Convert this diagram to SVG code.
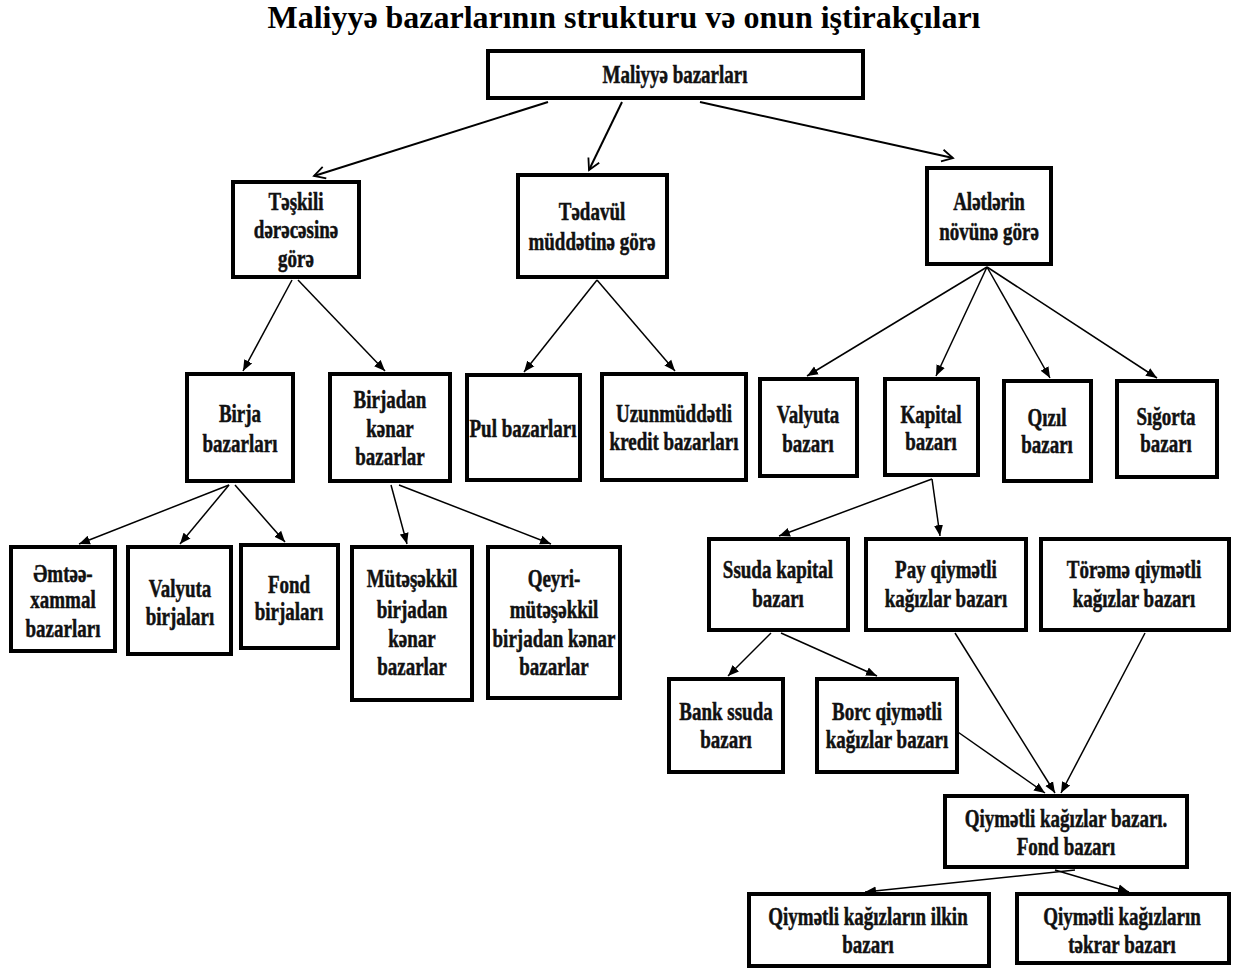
<svg xmlns="http://www.w3.org/2000/svg" width="1234" height="972" viewBox="0 0 1234 972">
<style>
.box rect{fill:#fff;stroke:#000;stroke-width:4}
.box text{font-family:"Liberation Serif","Times New Roman",serif;font-weight:bold;font-size:25px;fill:#111;stroke:#111;stroke-width:.5;text-anchor:middle}
.title{font-family:"Liberation Serif","Times New Roman",serif;font-weight:bold;font-size:31px;fill:#000;text-anchor:middle}
.c line{stroke:#000;stroke-width:1.5;fill:none}
.c .open{stroke-width:2;marker-end:url(#open)}
.c .fill{marker-end:url(#tri)}
</style>
<defs>
<marker id="tri" markerUnits="userSpaceOnUse" markerWidth="12" markerHeight="10" refX="11" refY="5" orient="auto"><path d="M0,0.5 L11,5 L0,9.5 z" fill="#000"/></marker>
<marker id="open" markerUnits="userSpaceOnUse" markerWidth="14" markerHeight="14" refX="12" refY="7" orient="auto"><path d="M1,1 L12,7 L1,13" fill="none" stroke="#000" stroke-width="1.8"/></marker>
</defs>
<rect width="1234" height="972" fill="#fff"/>
<text class="title" x="624" y="28" textLength="713" lengthAdjust="spacingAndGlyphs">Maliyyə bazarlarının strukturu və onun iştirakçıları</text>

<g class="c" id="connectors">
<line class="open" x1="548" y1="102" x2="314" y2="176"/>
<line class="open" x1="622" y1="102" x2="589" y2="170"/>
<line class="open" x1="700" y1="102" x2="953" y2="158"/>
<line class="fill" x1="292" y1="280" x2="243" y2="371"/>
<line class="fill" x1="298" y1="280" x2="385" y2="371"/>
<line class="fill" x1="597" y1="280" x2="524" y2="372"/>
<line class="fill" x1="597" y1="280" x2="675" y2="371"/>
<line class="fill" x1="987" y1="267" x2="807" y2="376"/>
<line class="fill" x1="987" y1="267" x2="936" y2="376"/>
<line class="fill" x1="987" y1="267" x2="1050" y2="378"/>
<line class="fill" x1="987" y1="267" x2="1157" y2="378"/>
<line class="fill" x1="229" y1="485" x2="79" y2="544"/>
<line class="fill" x1="229" y1="485" x2="180" y2="544"/>
<line class="fill" x1="235" y1="485" x2="285" y2="542"/>
<line class="fill" x1="391" y1="485" x2="407" y2="544"/>
<line class="fill" x1="399" y1="485" x2="551" y2="544"/>
<line class="fill" x1="932" y1="479" x2="779" y2="536"/>
<line class="fill" x1="932" y1="479" x2="940" y2="536"/>
<line class="fill" x1="771" y1="633" x2="728" y2="676"/>
<line class="fill" x1="781" y1="633" x2="877" y2="676"/>
<line class="fill" x1="955" y1="730" x2="1045" y2="793"/>
<line class="fill" x1="955" y1="633" x2="1055" y2="793"/>
<line class="fill" x1="1145" y1="633" x2="1061" y2="793"/>
<line class="fill" x1="1075" y1="870" x2="865" y2="892"/>
<line class="fill" x1="1055" y1="870" x2="1129" y2="892"/>
</g>

<g class="box" id="n-root"><rect x="488" y="51" width="375" height="47"/><text transform="translate(675 0) scale(.76 1)"><tspan x="0" y="83">Maliyyə bazarları</tspan></text></g>
<g class="box" id="n-teskili"><rect x="233" y="182" width="126" height="95"/><text transform="translate(296 0) scale(.76 1)"><tspan x="0" y="210">Təşkili</tspan><tspan x="0" y="238">dərəcəsinə</tspan><tspan x="0" y="267">görə</tspan></text></g>
<g class="box" id="n-tedavul"><rect x="518" y="175" width="149" height="102"/><text transform="translate(592 0) scale(.76 1)"><tspan x="0" y="220">Tədavül</tspan><tspan x="0" y="250">müddətinə görə</tspan></text></g>
<g class="box" id="n-aletler"><rect x="927" y="168" width="124" height="96"/><text transform="translate(989 0) scale(.76 1)"><tspan x="0" y="210">Alətlərin</tspan><tspan x="0" y="240">növünə görə</tspan></text></g>

<g class="box" id="n-birja"><rect x="187" y="374" width="106" height="107"/><text transform="translate(240 0) scale(.76 1)"><tspan x="0" y="422">Birja</tspan><tspan x="0" y="452">bazarları</tspan></text></g>
<g class="box" id="n-birjadan"><rect x="330" y="374" width="120" height="107"/><text transform="translate(390 0) scale(.76 1)"><tspan x="0" y="408">Birjadan</tspan><tspan x="0" y="437">kənar</tspan><tspan x="0" y="465">bazarlar</tspan></text></g>
<g class="box" id="n-pul"><rect x="467" y="375" width="113" height="105"/><text transform="translate(523 0) scale(.76 1)"><tspan x="0" y="437">Pul bazarları</tspan></text></g>
<g class="box" id="n-uzun"><rect x="602" y="374" width="144" height="106"/><text transform="translate(674 0) scale(.76 1)"><tspan x="0" y="422">Uzunmüddətli</tspan><tspan x="0" y="450">kredit bazarları</tspan></text></g>
<g class="box" id="n-valyuta"><rect x="760" y="379" width="97" height="97"/><text transform="translate(808 0) scale(.76 1)"><tspan x="0" y="423">Valyuta</tspan><tspan x="0" y="452">bazarı</tspan></text></g>
<g class="box" id="n-kapital"><rect x="885" y="379" width="93" height="96"/><text transform="translate(931 0) scale(.76 1)"><tspan x="0" y="423">Kapital</tspan><tspan x="0" y="450">bazarı</tspan></text></g>
<g class="box" id="n-qizil"><rect x="1004" y="381" width="87" height="100"/><text transform="translate(1047 0) scale(.76 1)"><tspan x="0" y="426">Qızıl</tspan><tspan x="0" y="453">bazarı</tspan></text></g>
<g class="box" id="n-sigorta"><rect x="1117" y="381" width="100" height="96"/><text transform="translate(1166 0) scale(.76 1)"><tspan x="0" y="425">Sığorta</tspan><tspan x="0" y="452">bazarı</tspan></text></g>

<g class="box" id="n-emtee"><rect x="11" y="547" width="104" height="104"/><text transform="translate(63 0) scale(.76 1)"><tspan x="0" y="582">Əmtəə-</tspan><tspan x="0" y="608">xammal</tspan><tspan x="0" y="637">bazarları</tspan></text></g>
<g class="box" id="n-valyutabirj"><rect x="128" y="547" width="103" height="107"/><text transform="translate(180 0) scale(.76 1)"><tspan x="0" y="597">Valyuta</tspan><tspan x="0" y="625">birjaları</tspan></text></g>
<g class="box" id="n-fondbirj"><rect x="241" y="545" width="97" height="103"/><text transform="translate(289 0) scale(.76 1)"><tspan x="0" y="593">Fond</tspan><tspan x="0" y="620">birjaları</tspan></text></g>
<g class="box" id="n-mutesekkil"><rect x="352" y="547" width="120" height="153"/><text transform="translate(412 0) scale(.76 1)"><tspan x="0" y="587">Mütəşəkkil</tspan><tspan x="0" y="618">birjadan</tspan><tspan x="0" y="647">kənar</tspan><tspan x="0" y="675">bazarlar</tspan></text></g>
<g class="box" id="n-qeyri"><rect x="488" y="547" width="132" height="151"/><text transform="translate(554 0) scale(.76 1)"><tspan x="0" y="587">Qeyri-</tspan><tspan x="0" y="618">mütəşəkkil</tspan><tspan x="0" y="647">birjadan kənar</tspan><tspan x="0" y="675">bazarlar</tspan></text></g>

<g class="box" id="n-ssuda"><rect x="709" y="539" width="139" height="91"/><text transform="translate(778 0) scale(.76 1)"><tspan x="0" y="578">Ssuda kapital</tspan><tspan x="0" y="607">bazarı</tspan></text></g>
<g class="box" id="n-pay"><rect x="866" y="539" width="160" height="91"/><text transform="translate(946 0) scale(.76 1)"><tspan x="0" y="578">Pay qiymətli</tspan><tspan x="0" y="607">kağızlar bazarı</tspan></text></g>
<g class="box" id="n-toreme"><rect x="1041" y="539" width="188" height="91"/><text transform="translate(1134 0) scale(.76 1)"><tspan x="0" y="578">Törəmə qiymətli</tspan><tspan x="0" y="607">kağızlar bazarı</tspan></text></g>
<g class="box" id="n-bank"><rect x="669" y="679" width="114" height="93"/><text transform="translate(726 0) scale(.76 1)"><tspan x="0" y="720">Bank ssuda</tspan><tspan x="0" y="748">bazarı</tspan></text></g>
<g class="box" id="n-borc"><rect x="817" y="679" width="140" height="93"/><text transform="translate(887 0) scale(.76 1)"><tspan x="0" y="720">Borc qiymətli</tspan><tspan x="0" y="748">kağızlar bazarı</tspan></text></g>
<g class="box" id="n-fond"><rect x="945" y="796" width="242" height="71"/><text transform="translate(1066 0) scale(.76 1)"><tspan x="0" y="827">Qiymətli kağızlar bazarı.</tspan><tspan x="0" y="855">Fond bazarı</tspan></text></g>
<g class="box" id="n-ilkin"><rect x="749" y="894" width="240" height="72"/><text transform="translate(868 0) scale(.76 1)"><tspan x="0" y="925">Qiymətli kağızların ilkin</tspan><tspan x="0" y="953">bazarı</tspan></text></g>
<g class="box" id="n-tekrar"><rect x="1017" y="894" width="212" height="69"/><text transform="translate(1122 0) scale(.76 1)"><tspan x="0" y="925">Qiymətli kağızların</tspan><tspan x="0" y="953">təkrar bazarı</tspan></text></g>
</svg>
